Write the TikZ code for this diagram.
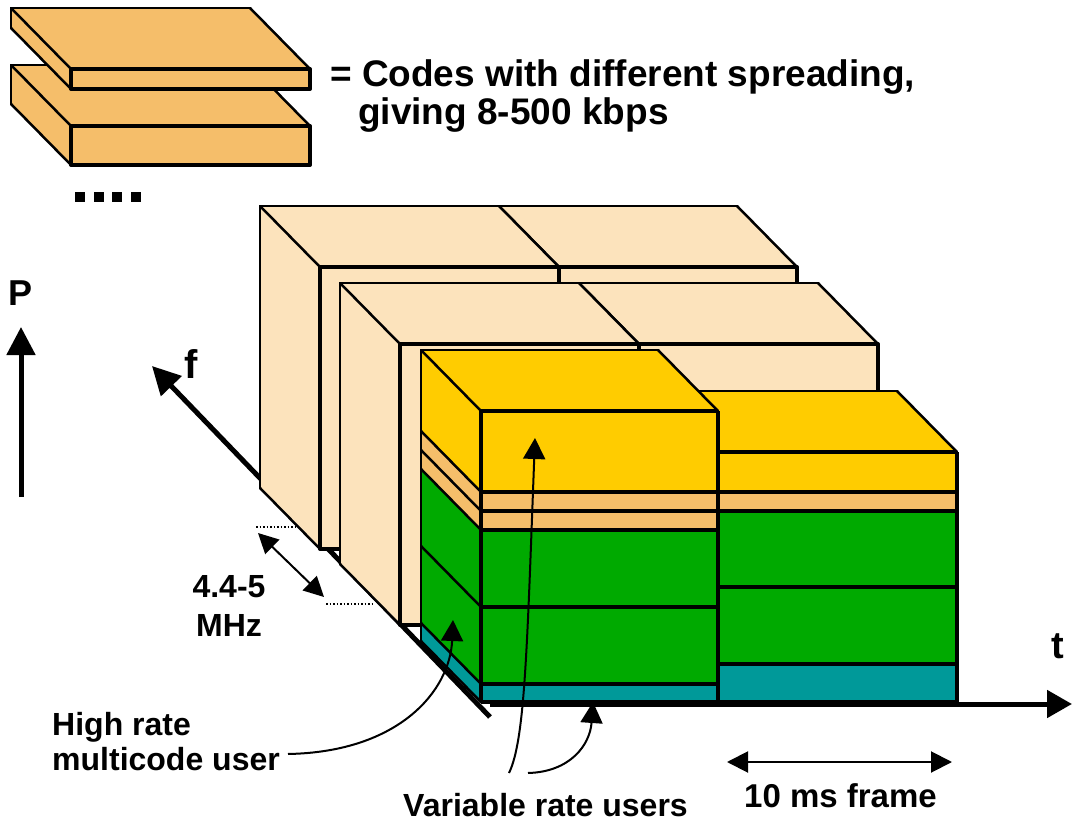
\documentclass[tikz,border=0pt]{standalone}
\usepackage{fontspec}
\setmainfont{Liberation Sans}
\usetikzlibrary{arrows.meta}

\definecolor{beige}{HTML}{FCE3BC}
\definecolor{slab}{HTML}{F5BE6A}
\definecolor{gold}{HTML}{FFCC00}
\definecolor{grn}{HTML}{00AA00}
\definecolor{tealband}{HTML}{009999}

\tikzset{
  frontedge/.style={line width=4pt, line join=round},
  sideedge/.style={line width=2.5pt, line cap=round},
  backedge/.style={line width=2pt, line join=round},
  axisline/.style={line width=5pt, -{Triangle[length=28pt,width=28pt]}},
  pointer/.style={line width=2pt, -{Triangle[length=21pt,width=22pt]}},
  dimline/.style={line width=2pt, {Triangle[length=20pt,width=20pt]}-{Triangle[length=20pt,width=20pt]}},
  guide/.style={line width=1.5pt, dotted},
  txt/.style={inner sep=0pt, font=\bfseries\fontsize{#1}{#1}\selectfont},
}

% box seen from the front, with its top and left faces receding up-left
% #1,#2 = left/right x of front face, #3,#4 = top/bottom y, #5 = colour
\newcommand\cuboidbox[5]{%
  \fill[#5] (#1,#3) -- ({#1-60},{#3-61}) -- ({#2-60},{#3-61}) -- (#2,#3) -- cycle;
  \fill[#5] (#1,#3) -- ({#1-60},{#3-61}) -- ({#1-60},{#4-61}) -- (#1,#4) -- cycle;
  \draw[backedge] ({#1-60},{#4-61}) -- ({#1-60},{#3-61}) -- ({#2-60},{#3-61});
  \draw[sideedge] ({#1-60},{#3-61}) -- (#1,#3)
                  ({#2-60},{#3-61}) -- (#2,#3)
                  ({#1-60},{#4-61}) -- (#1,#4);
  \filldraw[fill=#5, frontedge] (#1,#3) rectangle (#2,#4);
}

% one horizontal code band of a stack: front strip plus its left side strip
\newcommand\codeband[5]{%
  \fill[#5] (#1,#3) rectangle (#2,#4);
  \fill[#5] (#1,#3) -- ({#1-60},{#3-61}) -- ({#1-60},{#4-61}) -- (#1,#4) -- cycle;
}

\begin{document}
\begin{tikzpicture}[x=1pt,y=-1pt]
\useasboundingbox (0,0) rectangle (1072,824);

% ---- legend: two code slabs and dots ----
\cuboidbox{71}{310}{126}{165}{slab}
\cuboidbox{71}{310}{69}{89}{slab}
\foreach \i in {0,1,2,3}
  \fill ({75+18.7*\i},192) rectangle ++(10,10);
\node[txt=37, anchor=base west] (legendA) at (330,87) {= Codes with different spreading,};
\node[txt=37, anchor=base west] (legendB) at (358,125) {giving 8-500 kbps};

% ---- axes ----
\coordinate (origin) at (490,717);
\coordinate (fTip) at (152,366);
\coordinate (tStart) at (490,704);
\coordinate (tTip) at (1072,704);
\coordinate (pFoot) at (21,497);
\coordinate (pTip) at (21,327);
\draw[axisline] (origin) -- (fTip);
\draw[axisline, -{Triangle[length=25pt,width=27pt]}] (tStart) -- (tTip);
\draw[axisline] (pFoot) -- (pTip);
\node[txt=36, anchor=base] (pLabel) at (21,305) {P};
\node[txt=40, anchor=base west] (fLabel) at (184,378) {f};
\node[txt=38, anchor=base west] (tLabel) at (1051,658) {t};

% ---- back row of carriers ----
\cuboidbox{559}{797}{267}{549}{beige}
\cuboidbox{320}{559}{267}{549}{beige}

% ---- middle row of carriers ----
\cuboidbox{639}{878}{344}{625}{beige}
\cuboidbox{400}{639}{344}{625}{beige}

% ---- front carrier, second frame ----
\fill[gold] (718,452) -- (658,391) -- (897,391) -- (957,452) -- cycle;
\draw[backedge] (658,391) -- (897,391);
\draw[sideedge] (897,391) -- (957,452);
\fill[gold]     (718,452) rectangle (957,492);
\fill[slab]     (718,492) rectangle (957,511);
\fill[grn]      (718,511) rectangle (957,664);
\fill[tealband] (718,664) rectangle (957,702);
\foreach \y in {452,492,511,587,664,702}
  \draw[frontedge] (718,\y) -- (957,\y);
\draw[frontedge] (718,452) -- (718,702) (957,452) -- (957,702);

% ---- front carrier, first frame ----
\fill[gold] (481,411) -- (421,350) -- (658,350) -- (718,411) -- cycle;
\codeband{481}{718}{411}{492}{gold}
\codeband{481}{718}{492}{511}{slab}
\codeband{481}{718}{511}{530}{slab}
\codeband{481}{718}{530}{684}{grn}
\codeband{481}{718}{684}{702}{tealband}
\draw[backedge] (421,641) -- (421,350) -- (658,350);
\draw[sideedge] (658,350) -- (718,411);
\foreach \y in {411,492,511,530,607,684,702}
  \draw[sideedge] (421,{\y-61}) -- (481,\y);
\foreach \y in {411,492,511,530,607,684,702}
  \draw[frontedge] (481,\y) -- (718,\y);
\draw[frontedge] (481,411) -- (481,702) (718,411) -- (718,702);

% ---- carrier bandwidth ----
\coordinate (bwA) at (258,533);
\coordinate (bwB) at (324,597);
\draw[guide] (256,527) -- (297,527);
\draw[guide] (326,604) -- (374,604);
\draw[dimline] (bwA) -- (bwB);
\node[txt=32, anchor=base] (bwTop) at (229,597) {4.4-5};
\node[txt=32, anchor=base] (bwBot) at (229,636) {MHz};

% ---- frame length ----
\coordinate (frA) at (727,762);
\coordinate (frB) at (952,762);
\draw[line width=2pt, {Triangle[length=21pt,width=21pt]}-{Triangle[length=21pt,width=21pt]}] (frA) -- (frB);
\node[txt=33, anchor=base west] (frLabel) at (744,807) {10 ms frame};

% ---- users ----
\node[txt=32, anchor=base west] (hrA) at (52,735) {High rate};
\node[txt=32, anchor=base west] (hrB) at (52,770) {multicode user};
\node[txt=32, anchor=base west] (vrLabel) at (403,816) {Variable rate users};
\coordinate (hrStart) at (288,754);
\coordinate (hrTip) at (453,620);
\coordinate (vrStartA) at (509,773);
\coordinate (vrTipA) at (535,438);
\coordinate (vrStartB) at (528,773);
\coordinate (vrTipB) at (593,702);
\draw[pointer] (hrStart) .. controls (400,752) and (450,690) .. (hrTip);
\draw[pointer] (vrStartA) .. controls (525,740) and (527,650) .. (vrTipA);
\draw[pointer] (vrStartB) .. controls (570,772) and (590,745) .. (vrTipB);
\end{tikzpicture}
\end{document}
